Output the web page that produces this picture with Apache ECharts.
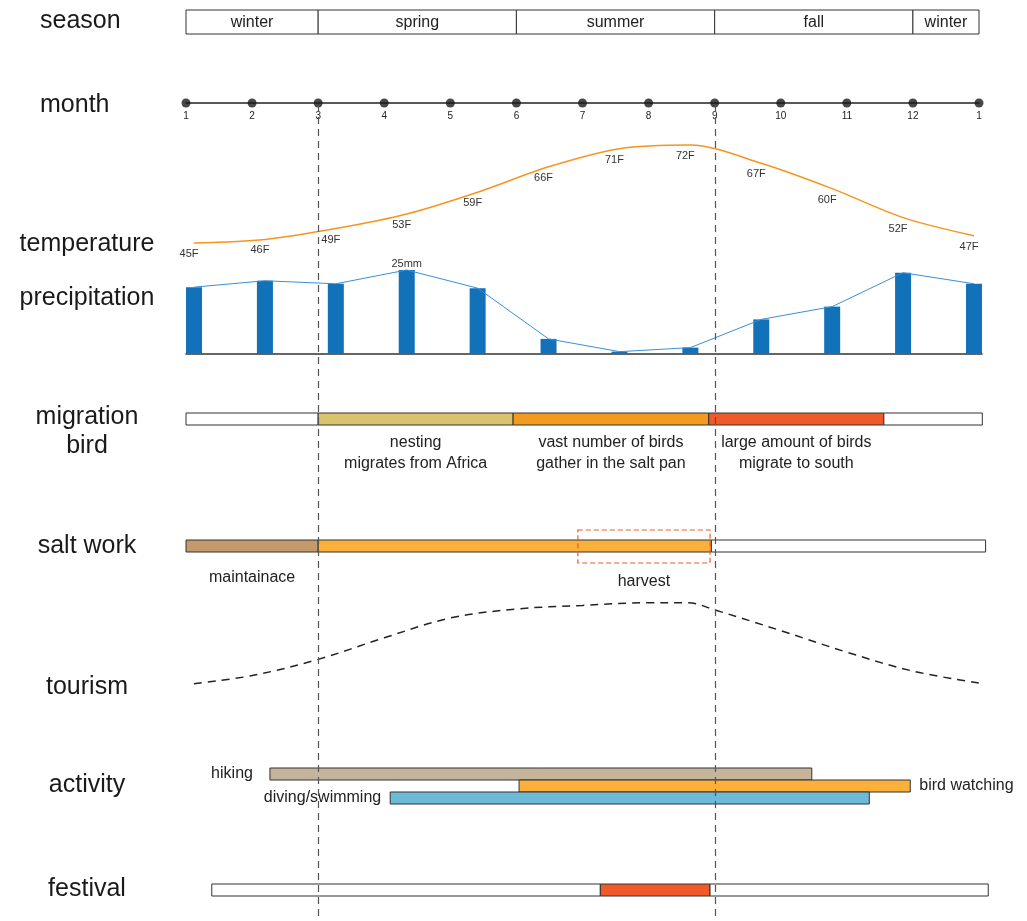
<!DOCTYPE html>
<html><head><meta charset="utf-8">
<script src="https://cdn.jsdelivr.net/npm/echarts@6/dist/echarts.min.js"></script>
<style>html,body{margin:0;padding:0;background:#fff}#c{width:1027px;height:921px}</style>
</head><body><div id="c"></div>
<script>
// ---------------- data ----------------
const seasons = ['winter', 'spring', 'summer', 'fall', 'winter'];
const seasonBounds = [0, 2, 5, 8, 11, 12];            // month index (0 = month 1)
const monthLabels = ['1','2','3','4','5','6','7','8','9','10','11','12','1'];
const tempValues = [45, 46, 49, 53, 59, 66, 71, 72, 67, 60, 52, 47];           // °F
const precipValues = [19.9, 21.8, 20.9, 25, 19.6, 4.5, 0.7, 1.9, 10.3, 14.1, 24.2, 20.9]; // mm
const migrationStart = [0, 2, 4.95, 7.91, 10.56];
const migrationEnd   = [2, 4.95, 7.91, 10.56, 12.05];
const migrationText  = ['', 'nesting\nmigrates from Africa', 'vast number of birds\ngather in the salt pan', 'large amount of birds\nmigrate to south', ''];
const saltStart = [0, 2, 7.95];
const saltEnd   = [2, 7.95, 12.1];
const saltText  = ['maintainace', '', ''];
const harvestSpan = [5.93, 7.93];
const harvestText = 'harvest';
const tourismMonth = [0.12, 1, 2, 3, 4, 5, 6, 7, 7.6, 8, 9, 10, 11, 12.06];
const tourismLevel = [7, 16, 34, 58, 80, 90, 94, 97, 97, 89, 66, 42, 21, 7];
const activities = ['hiking', 'bird watching', 'diving/swimming'];
const activityStart = [1.27, 5.04, 3.09];
const activityEnd   = [9.47, 10.96, 10.34];
const festivalStart = [0.39, 6.27, 7.93];
const festivalEnd   = [6.27, 7.93, 12.14];
const guideMonths = [2, 8];
const rowLabels = ['season', 'month', 'temperature', 'precipitation', 'migration\nbird', 'salt work', 'tourism', 'activity', 'festival'];

// ---------------- styles ----------------
const FONT = '"Liberation Sans", Arial, Helvetica, sans-serif';
const TXT = '#222';
const COL = {
  season: ['#ffffff', '#ffffff', '#ffffff', '#ffffff', '#ffffff'],
  migration: ['#ffffff', '#d9c36c', '#f39a21', '#ef5a2b', '#ffffff'],
  salt: ['#c49a6c', '#fbb03b', '#ffffff'],
  activity: ['#c4b49c', '#fbb03b', '#6cb9d8'],
  festival: ['#ffffff', '#f05a28', '#ffffff'],
  temp: '#f7941d', precip: '#1172ba', precipLine: '#3b8fd4'
};
const activityLabelSide = { 'hiking': ['left', 17], 'bird watching': ['right', 9], 'diving/swimming': ['left', 9] };

// ---------------- layout ----------------
const ML = 186, MR = 48;
const grids = [
  { left: ML, right: MR, top: 10, height: 24 },        // 0 season
  { left: ML, right: MR, top: 93, height: 10 },        // 1 month
  { left: 186, right: 45, top: 116, height: 145.2 },   // 2 temperature
  { left: 186, right: 45, top: 253.2, height: 100.8 }, // 3 precipitation
  { left: ML, right: MR, top: 413, height: 12 },       // 4 migration
  { left: ML, right: MR, top: 540, height: 12 },       // 5 salt work
  { left: ML, right: MR, top: 600, height: 90 },       // 6 tourism
  { left: ML, right: MR, top: 768, height: 36 },       // 7 activity
  { left: ML, right: MR, top: 884, height: 12 },       // 8 festival
  { left: ML, right: MR, top: 105, bottom: 0 }         // 9 guides
];
const hiddenX = (i, extra) => Object.assign({ gridIndex: i, type: 'value', min: 0, max: 12, show: false }, extra || {});
const hiddenY = (i, extra) => Object.assign({ gridIndex: i, type: 'value', min: 0, max: 1, show: false }, extra || {});

const xAxes = [
  hiddenX(0),
  { gridIndex: 1, type: 'value', min: 0, max: 12, interval: 1,
    axisLine: { show: true, lineStyle: { color: '#222', width: 1.5 } },
    axisTick: { show: false }, splitLine: { show: false },
    axisLabel: { show: true, formatter: v => monthLabels[v] || '', fontSize: 10, color: TXT, fontFamily: FONT, margin: 8, showMinLabel: true, showMaxLabel: true } },
  hiddenX(2, { min: -0.113, max: 11.113 }),
  { gridIndex: 3, type: 'value', min: -0.113, max: 11.113, show: true,
    axisLine: { show: true, onZero: false, lineStyle: { color: '#333', width: 1.5 } },
    axisTick: { show: false }, axisLabel: { show: false }, splitLine: { show: false } },
  hiddenX(4), hiddenX(5), hiddenX(6), hiddenX(7), hiddenX(8), hiddenX(9)
];
const yAxes = [
  hiddenY(0), hiddenY(1),
  hiddenY(2, { min: 40, max: 80 }),
  hiddenY(3, { min: 0, max: 30 }),
  hiddenY(4), hiddenY(5),
  hiddenY(6, { min: 0, max: 100 }),
  { gridIndex: 7, type: 'category', data: activities, inverse: true, show: false },
  hiddenY(8), hiddenY(9)
];

function segSeries(g, starts, ends, colors, texts, mode, dy) {
  return {
    type: 'custom', xAxisIndex: g, yAxisIndex: g, silent: true, clip: false,
    data: starts.map((s, i) => [s, ends[i]]),
    encode: { x: [0, 1] },
    renderItem(params, api) {
      const i = params.dataIndex;
      const a = api.coord([api.value(0), 0]), b = api.coord([api.value(1), 0]);
      const cs = params.coordSys;
      const kids = [{ type: 'rect', shape: { x: a[0], y: cs.y, width: b[0] - a[0], height: cs.height },
        style: { fill: colors[i], stroke: '#333', lineWidth: 1 } }];
      const t = texts ? texts[i] : '';
      if (t) {
        kids.push({ type: 'text', style: {
          text: t, x: (a[0] + b[0]) / 2,
          y: mode === 'inside' ? cs.y + cs.height / 2 + 0.5 : cs.y + cs.height + dy,
          align: 'center', verticalAlign: mode === 'inside' ? 'middle' : 'top',
          fontSize: 16, fontFamily: FONT, lineHeight: 21, fill: TXT } });
      }
      return { type: 'group', children: kids };
    }
  };
}

const series = [];
// season
series.push(segSeries(0, seasonBounds.slice(0, -1), seasonBounds.slice(1), COL.season, seasons, 'inside', 0));
// month dots
series.push({ type: 'scatter', xAxisIndex: 1, yAxisIndex: 1, silent: true, symbolSize: 9,
  itemStyle: { color: '#1a1a1a' }, data: monthLabels.map((m, i) => [i, 0]) });
// temperature
series.push({ type: 'line', xAxisIndex: 2, yAxisIndex: 2, silent: true, smooth: 0.3,
  data: tempValues.map((v, i) => [i, v]),
  lineStyle: { color: COL.temp, width: 1.5 }, symbol: 'circle', symbolSize: 1, showSymbol: true, showAllSymbol: true,
  itemStyle: { color: 'rgba(0,0,0,0)' },
  label: { show: true, position: 'bottom', distance: 5, offset: [-5, 0], formatter: p => p.value[1] + 'F',
    fontSize: 11, color: '#333', fontFamily: FONT } });
// precipitation
const pMax = Math.max(...precipValues);
series.push({ type: 'bar', xAxisIndex: 3, yAxisIndex: 3, silent: true, barWidth: 16,
  data: precipValues.map((v, i) => [i, v]), itemStyle: { color: COL.precip },
  label: { show: true, position: 'top', distance: 1, fontSize: 11, color: '#333', fontFamily: FONT,
    formatter: p => p.value[1] === pMax ? Math.round(p.value[1]) + 'mm' : '' } });
series.push({ type: 'line', xAxisIndex: 3, yAxisIndex: 3, silent: true, symbol: 'none', z: 3,
  data: precipValues.map((v, i) => [i, v]), lineStyle: { color: COL.precipLine, width: 1 } });
// migration
series.push(segSeries(4, migrationStart, migrationEnd, COL.migration, migrationText, 'below', 7));
// salt work
series.push(segSeries(5, saltStart, saltEnd, COL.salt, saltText, 'below', 15));
series.push({ type: 'custom', xAxisIndex: 5, yAxisIndex: 5, silent: true, clip: false, z: 5,
  data: [harvestSpan], encode: { x: [0, 1] },
  renderItem(params, api) {
    const a = api.coord([api.value(0), 0]), b = api.coord([api.value(1), 0]);
    const cs = params.coordSys;
    return { type: 'group', children: [
      { type: 'rect', shape: { x: a[0], y: cs.y - 10, width: b[0] - a[0], height: cs.height + 21 },
        style: { fill: 'none', stroke: '#f05a28', lineWidth: 1.2, lineDash: [5, 3] } },
      { type: 'text', style: { text: harvestText, x: (a[0] + b[0]) / 2, y: cs.y + cs.height + 19.5,
        align: 'center', verticalAlign: 'top', fontSize: 16, fontFamily: FONT, lineHeight: 21, fill: TXT } }
    ] };
  } });
// tourism
series.push({ type: 'line', xAxisIndex: 6, yAxisIndex: 6, silent: true, smooth: 0.35, symbol: 'none',
  data: tourismMonth.map((m, i) => [m, tourismLevel[i]]),
  lineStyle: { color: '#222', width: 1.5, type: [8, 6] } });
// activity
series.push({ type: 'custom', xAxisIndex: 7, yAxisIndex: 7, silent: true, clip: false,
  data: activities.map((a, i) => [activityStart[i], activityEnd[i], i]), encode: { x: [0, 1], y: 2 },
  renderItem(params, api) {
    const i = params.dataIndex;
    const a = api.coord([api.value(0), i]), b = api.coord([api.value(1), i]);
    const h = api.size([0, 1])[1];
    const side = activityLabelSide[activities[i]];
    const left = side[0] === 'left';
    return { type: 'group', children: [
      { type: 'rect', shape: { x: a[0], y: a[1] - h / 2, width: b[0] - a[0], height: h },
        style: { fill: COL.activity[i], stroke: '#333', lineWidth: 1 } },
      { type: 'text', style: { text: activities[i], x: left ? a[0] - side[1] : b[0] + side[1], y: a[1],
        align: left ? 'right' : 'left', verticalAlign: 'middle', fontSize: 16, fontFamily: FONT, fill: TXT } }
    ] };
  } });
// festival
series.push(segSeries(8, festivalStart, festivalEnd, COL.festival, null, 'below', 0));
// dashed guides
series.push({ type: 'custom', xAxisIndex: 9, yAxisIndex: 9, silent: true, clip: false, z: 20,
  data: guideMonths.map(m => [m]), encode: { x: 0 },
  renderItem(params, api) {
    const x = Math.round(api.coord([api.value(0), 0])[0]) + 0.5;
    const cs = params.coordSys;
    return { type: 'line', shape: { x1: x, y1: cs.y, x2: x, y2: cs.y + cs.height },
      style: { stroke: '#555', lineWidth: 1.2, lineDash: [7, 5] } };
  } });

// row labels
const rowPos = [[40, 21, 'left'], [40, 105, 'left'], [87, 244, 'center'], [87, 298, 'center'],
  [87, 432, 'center'], [87, 546, 'center'], [87, 687, 'center'], [87, 785, 'center'], [87, 889, 'center']];
const graphic = rowLabels.map((t, i) => ({
  type: 'text', x: rowPos[i][0], y: rowPos[i][1], silent: true,
  style: { text: t, fontSize: 25, fontFamily: FONT, fill: '#1a1a1a', lineHeight: 29,
    align: rowPos[i][2], verticalAlign: 'middle', textAlign: rowPos[i][2], textVerticalAlign: 'middle' }
}));

const chart = echarts.init(document.getElementById('c'), null, { renderer: 'canvas' });
chart.setOption({
  animation: false, backgroundColor: '#fff',
  grid: grids, xAxis: xAxes, yAxis: yAxes, series, graphic
});
</script></body></html>
